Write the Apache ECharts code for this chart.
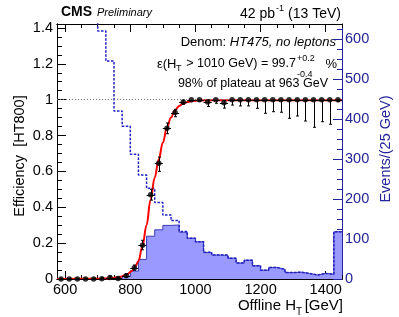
<!DOCTYPE html>
<html><head><meta charset="utf-8">
<script src="https://cdn.jsdelivr.net/npm/echarts@6/dist/echarts.min.js"></script>
<style>html,body{margin:0;padding:0;background:#fff}#c{width:399px;height:317px}</style>
</head><body><div id="c"></div>
<script>
// ---------- data ----------
const BIN = 25;
const binLow = [575,600,625,650,675,700,725,750,775,800,825,850,875,900,925,950,975,1000,1025,1050,1075,1100,1125,1150,1175,1200,1225,1250,1275,1300,1325,1350,1375,1400,1425];
// numerator (filled) events per 25 GeV
const passEvents = [0,0,0,0,0,1,4,1,7,20,49,107,123,134,135,117,102,93,66,60,59,52,40,47,33,22,29,24,16,17,14,10,14,12,118];
// denominator (dashed) events per 25 GeV (first bins off scale)
const totalEvents = [1150,1050,950,850,760,620,545,420,382,312,260,227,191,160,146,119,102,93,67,60,60,52,40,47,33,22,29,24,16,17,14,10,14,12,118];
// efficiency per bin
const effVal = [0,0,0,0,0,0.002,0.008,0.003,0.018,0.063,0.188,0.47,0.645,0.84,0.928,0.987,1,1,0.987,1,0.983,1,1,1,1,1,1,1,1,1,1,1,1,1,1];
const effErrLow = [0,0,0,0,0,0.002,0.005,0.003,0.008,0.014,0.025,0.03,0.045,0.03,0.023,0.012,0.008,0.008,0.025,0.02,0.03,0.03,0.035,0.035,0.048,0.076,0.067,0.07,0.104,0.091,0.119,0.154,0.123,0.137,0.011];
const effErrHigh = [0.003,0.003,0.003,0.003,0.004,0.005,0.008,0.006,0.012,0.015,0.028,0.03,0.035,0.03,0.018,0.01,0,0,0.012,0,0.012,0,0,0,0,0,0,0,0,0,0,0,0,0,0];
// fitted turn-on curve
const fitX = [575,700,740,770,790,805,815,825,837,850,862,875,887,900,912,925,937,950,962,975,990,1010,1050,1450];
const fitY = [0,0.001,0.004,0.012,0.025,0.045,0.068,0.1,0.18,0.3,0.44,0.565,0.665,0.76,0.84,0.9,0.94,0.965,0.978,0.987,0.993,0.996,0.997,0.997];
// tick labels
const xTicks = [600,800,1000,1200,1400];
const effTicks = [0,0.2,0.4,0.6,0.8,1,1.2,1.4];
const evTicks = [0,100,200,300,400,500,600];

// ---------- helpers ----------
function range(a,b,s){const r=[];for(let v=a;v<=b+1e-9;v+=s)r.push(+v.toFixed(4));return r;}
const xMinor = range(600,1450,50);
const effMinor = range(0,1.4,0.05);
const evMinor = range(0,625,25);
function steps(vals){const d=[];binLow.forEach((lo,i)=>{d.push([lo,vals[i]]);d.push([lo+BIN,vals[i]]);});return d;}
const FONT = '"Liberation Sans", Arial, Helvetica, sans-serif';
const BLUE = '#23239b';

const xCommon = {type:'value',min:575,max:1450,splitLine:{show:false}};
function xAx(pos, ticks, len, labels){
  return Object.assign({}, xCommon, {position:pos,
    axisLine:{show:true,onZero:false,lineStyle:{color:'#000',width:1}},
    axisTick:{show:true,inside:true,length:len,customValues:ticks,lineStyle:{color:'#000'}},
    axisLabel:labels?{show:true,customValues:ticks,margin:3,color:'#000',fontSize:14.5,fontFamily:FONT,formatter:v=>String(Math.round(v))}:{show:false}
  });
}
function yAx(pos,max,ticks,len,labels,color,fmt){
  return {type:'value',position:pos,min:0,max:max,splitLine:{show:false},
    axisLine:{show:true,onZero:false,lineStyle:{color:color,width:1}},
    axisTick:{show:true,inside:true,length:len,customValues:ticks,lineStyle:{color:color}},
    axisLabel:labels?{show:true,customValues:ticks,margin:pos==='left'?4:3,color:color,fontSize:14.5,fontFamily:FONT,formatter:fmt}:{show:false}
  };
}
function T(text,x,y,size,align,extra){
  return {type:'text',style:Object.assign({text:text,x:x,y:y,font:size+'px '+FONT,fill:'#000',align:align,verticalAlign:'middle',textAlign:align,textVerticalAlign:'middle'},extra||{})};
}

const chart = echarts.init(document.getElementById('c'), null, {renderer:'canvas'});
const option = {
  animation:false,
  backgroundColor:'#fff',
  textStyle:{fontFamily:FONT},
  grid:{left:57,right:57,top:24,bottom:38,containLabel:false},
  xAxis:[
    xAx('bottom', xTicks, 8, true),
    xAx('bottom', xMinor, 4, false),
    xAx('top', xTicks, 8, false),
    xAx('top', xMinor, 4, false)
  ],
  yAxis:[
    yAx('left',1.422,effTicks,9,true,'#000',v=>String(+(+v).toFixed(1))),
    yAx('left',1.422,effMinor,5,false,'#000'),
    yAx('right',637.5,evTicks,9,true,BLUE,v=>String(Math.round(v))),
    yAx('right',637.5,evMinor,5,false,BLUE)
  ],
  series:[
    {type:'line',name:'pass',xAxisIndex:0,yAxisIndex:2,data:steps(passEvents),showSymbol:false,z:1,
      lineStyle:{color:'#3a3ab8',width:1},areaStyle:{color:'#9999ff',opacity:1},silent:true},
    {type:'line',name:'total',xAxisIndex:0,yAxisIndex:2,data:steps(totalEvents),showSymbol:false,z:2,
      lineStyle:{color:'#2020c0',width:1.5,type:[2.5,1.5]},silent:true},
    {type:'line',name:'fit',xAxisIndex:0,yAxisIndex:0,data:fitX.map((x,i)=>[x,fitY[i]]),showSymbol:false,
      smooth:0.4,smoothMonotone:'x',z:3,lineStyle:{color:'#ff0000',width:2},silent:true,
      markLine:{silent:true,symbol:['none','none'],label:{show:false},
        lineStyle:{color:'#777',type:[1,2],width:1},data:[{yAxis:1}]}},
    {type:'custom',name:'err',xAxisIndex:0,yAxisIndex:0,z:4,encode:{x:0,y:1},
      data:binLow.map((lo,i)=>[lo+BIN/2,effVal[i],effErrLow[i],effErrHigh[i]]),
      renderItem:function(params,api){
        const x=api.value(0),y=api.value(1),lo=api.value(2),hi=api.value(3);
        const c=api.coord([x,y]),cl=api.coord([x,y-lo]),chh=api.coord([x,y+hi]);
        const xl=api.coord([x-BIN/2,y]),xr=api.coord([x+BIN/2,y]);
        const cx=Math.round(c[0])+0.5, cy=Math.round(c[1])+0.5;
        const st={stroke:'#000',lineWidth:1};
        const ch=[
          {type:'line',shape:{x1:xl[0],y1:cy,x2:xr[0],y2:cy},style:st},
          {type:'line',shape:{x1:cx,y1:cl[1],x2:cx,y2:chh[1]},style:st}
        ];
        if(lo>0) ch.push({type:'line',shape:{x1:cx-1.5,y1:cl[1],x2:cx+1.5,y2:cl[1]},style:st});
        if(hi>0) ch.push({type:'line',shape:{x1:cx-1.5,y1:chh[1],x2:cx+1.5,y2:chh[1]},style:st});
        return {type:'group',children:ch};
      }},
    {type:'scatter',name:'eff',xAxisIndex:0,yAxisIndex:0,z:5,symbol:'circle',symbolSize:5.5,
      itemStyle:{color:'#000'},data:binLow.map((lo,i)=>[lo+BIN/2,effVal[i]]),silent:true}
  ],
  graphic:{elements:[
    {type:'text',style:{text:'CMS',x:61,y:12,font:'bold 14px '+FONT,fill:'#000',align:'left',verticalAlign:'middle',textAlign:'left',textVerticalAlign:'middle'}},
    {type:'text',style:{text:'Preliminary',x:97,y:13,font:'italic 11px '+FONT,fill:'#000',align:'left',verticalAlign:'middle',textAlign:'left',textVerticalAlign:'middle'}},
    T('42 pb',275,14,14,'right'),
    T('-1',276,9,9,'left'),
    T('(13 TeV)',341,14,14,'right'),
    {type:'text',style:{text:'{n|Denom: }{i|HT475, no leptons}',x:336,y:42,align:'right',verticalAlign:'middle',textAlign:'right',textVerticalAlign:'middle',
      rich:{n:{fontSize:13,fontFamily:FONT,color:'#000'},i:{fontSize:13,fontFamily:FONT,fontStyle:'italic',color:'#000'}}}},
    T('ε(H',157,64,13,'left'),
    T('T',176,69,9,'left'),
    T('> 1010 GeV) = 99.7',296,64,12.5,'right'),
    T('+0.2',297,59,9,'left'),
    T('-0.4',297,74.5,9,'left'),
    T('%',337,64,13,'right'),
    T('98% of plateau at 963 GeV',328,83.5,12.5,'right'),
    T('Offline H',296,306,15,'right'),
    T('T',296,312,10,'left'),
    T('[GeV]',343,306,15,'right'),
    {type:'text',x:20,y:156,rotation:Math.PI/2,style:{text:'Efficiency  [HT800]',x:0,y:0,font:'14.5px '+FONT,fill:'#000',align:'center',verticalAlign:'middle',textAlign:'center',textVerticalAlign:'middle'}},
    {type:'text',x:386,y:149,rotation:Math.PI/2,style:{text:'Events/(25 GeV)',x:0,y:0,font:'14.5px '+FONT,fill:BLUE,align:'center',verticalAlign:'middle',textAlign:'center',textVerticalAlign:'middle'}}
  ]}
};
chart.setOption(option);
</script>
</body></html>
